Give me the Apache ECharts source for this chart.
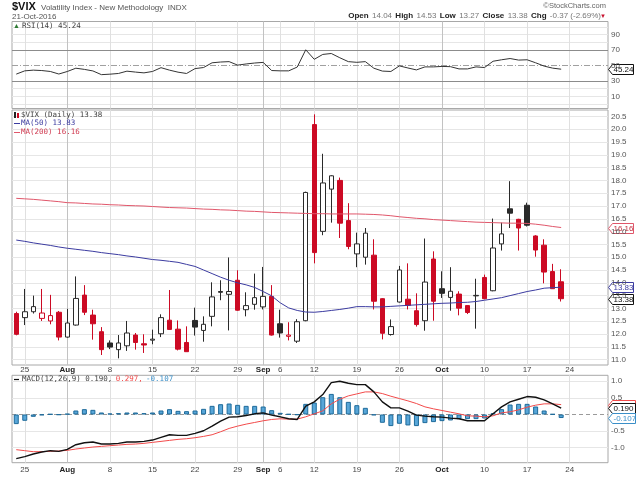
<!DOCTYPE html>
<html><head><meta charset="utf-8">
<script src="https://cdn.jsdelivr.net/npm/echarts@6/dist/echarts.min.js"></script>
<style>html,body{margin:0;padding:0;background:#fff}#c{width:640px;height:477px}</style>
</head><body><div id="c"></div>
<script>
// ---------- data ----------
const dates = ['07-22','07-25','07-26','07-27','07-28','07-29',
 '08-01','08-02','08-03','08-04','08-05','08-08','08-09','08-10','08-11','08-12','08-15','08-16','08-17','08-18','08-19','08-22','08-23','08-24','08-25','08-26','08-29','08-30','08-31',
 '09-01','09-02','09-06','09-07','09-08','09-09','09-12','09-13','09-14','09-15','09-16','09-19','09-20','09-21','09-22','09-23','09-26','09-27','09-28','09-29','09-30',
 '10-03','10-04','10-05','10-06','10-07','10-10','10-11','10-12','10-13','10-14','10-17','10-18','10-19','10-20','10-21',
 '10-24','10-25','10-26','10-27','10-28'];
const tickDates = ['07-25','08-01','08-08','08-15','08-22','08-29','09-01','09-06','09-12','09-19','09-26','10-03','10-10','10-17','10-24'];
const tickTexts = ['25','Aug','8','15','22','29','Sep','6','12','19','26','Oct','10','17','24'];
const monthTexts = ['Aug','Sep','Oct'];

const opens = [12.80,12.64,12.87,12.61,12.51,12.85,11.88,12.35,13.52,12.74,12.09,11.65,11.39,11.54,11.96,11.62,11.76,12.01,12.54,12.19,11.67,12.53,12.14,12.69,13.66,13.55,14.10,12.95,13.16,13.06,13.47,12.40,11.91,11.72,12.52,20.18,16.01,17.66,18.00,16.43,15.13,15.00,15.08,13.38,11.98,13.25,13.36,12.91,12.52,14.93,13.77,13.43,13.56,13.11,13.49,14.21,13.69,15.52,16.89,16.48,17.03,15.83,15.47,14.44,14.04];
const highs = [12.87,13.76,13.50,13.76,13.53,12.90,12.98,14.25,13.91,12.95,12.27,11.75,11.96,12.51,12.04,11.99,12.17,12.77,13.72,12.53,12.30,13.03,12.69,14.02,14.10,14.99,14.49,13.63,14.36,14.62,13.91,12.95,12.46,12.58,17.56,20.58,19.04,18.20,18.11,17.11,15.96,16.14,15.70,13.40,12.57,14.66,14.76,13.59,15.73,15.23,14.45,14.61,13.67,13.12,14.16,14.32,16.51,16.35,17.97,16.50,17.13,15.86,15.70,14.74,14.53];
const lows = [11.95,12.35,12.80,12.51,12.38,11.75,11.86,12.33,12.74,11.78,11.18,11.41,11.05,11.34,11.39,11.26,11.60,11.88,12.16,11.36,11.31,11.94,11.70,12.30,13.32,12.14,12.91,12.69,12.95,12.96,11.94,11.86,11.75,11.65,12.50,14.76,15.86,16.35,15.75,15.31,14.61,14.71,12.96,11.79,11.94,13.23,12.96,12.29,12.13,12.52,13.41,12.91,12.73,12.78,12.21,13.36,13.67,15.26,16.14,15.26,16.20,15.02,13.98,13.76,13.27];
const closes = [11.99,12.87,13.07,12.82,12.72,11.88,12.43,13.39,12.85,12.40,11.39,11.49,11.65,12.04,11.67,11.57,11.80,12.64,12.18,11.41,11.31,12.27,12.38,13.45,13.63,13.66,12.93,13.11,13.42,13.47,11.96,12.04,11.96,12.48,17.53,15.18,17.90,18.18,16.33,15.42,15.52,15.94,13.28,12.03,12.29,14.50,13.12,12.37,14.03,13.28,13.59,13.67,13.01,12.84,13.51,13.38,15.36,15.91,16.72,16.14,16.25,15.28,14.42,13.77,13.38];

const ma50 = [15.67,15.62,15.56,15.51,15.46,15.40,15.35,15.31,15.27,15.23,15.18,15.14,15.10,15.05,15.01,14.96,14.91,14.88,14.84,14.80,14.72,14.64,14.50,14.36,14.22,14.10,14.00,13.92,13.82,13.66,13.49,13.22,13.02,12.92,12.86,12.85,12.88,12.92,12.96,13.01,13.07,13.07,13.06,13.06,13.08,13.10,13.12,13.14,13.16,13.18,13.20,13.21,13.23,13.24,13.27,13.32,13.37,13.42,13.50,13.58,13.66,13.72,13.79,13.81,13.83];
const ma200 = [17.30,17.28,17.26,17.23,17.20,17.17,17.13,17.12,17.10,17.08,17.07,17.05,17.04,17.02,17.01,17.00,16.98,16.96,16.94,16.93,16.92,16.90,16.88,16.87,16.85,16.84,16.82,16.80,16.79,16.77,16.75,16.74,16.73,16.72,16.71,16.70,16.70,16.69,16.69,16.69,16.69,16.68,16.67,16.65,16.62,16.58,16.55,16.52,16.50,16.47,16.45,16.43,16.41,16.39,16.37,16.36,16.35,16.34,16.33,16.33,16.32,16.29,16.25,16.20,16.16];

const rsi = [38.9,43.1,44.0,43.5,42.3,39.0,42.3,46.5,45.0,43.0,38.2,38.8,39.7,42.7,41.5,40.5,42.3,47.2,44.0,41.4,39.7,46.0,47.4,53.5,54.5,55.0,50.5,52.0,53.2,54.0,43.5,43.1,43.1,48.0,70.3,58.0,64.3,65.5,60.0,55.0,54.1,55.0,46.5,42.8,42.3,49.5,46.8,44.3,48.2,48.2,48.8,48.5,45.6,45.6,48.2,47.4,55.5,57.4,59.0,57.0,57.4,53.5,49.2,46.6,45.24];

const macd = [-1.33,-1.27,-1.19,-1.13,-1.09,-1.11,-1.05,-0.91,-0.85,-0.83,-0.89,-0.89,-0.87,-0.83,-0.83,-0.81,-0.77,-0.69,-0.61,-0.63,-0.63,-0.57,-0.49,-0.35,-0.20,-0.08,-0.07,-0.03,0.02,0.05,-0.02,-0.07,-0.13,-0.15,0.25,0.38,0.60,0.96,1.00,0.94,0.90,0.90,0.68,0.38,0.20,0.20,0.10,-0.02,-0.05,-0.07,-0.08,-0.11,-0.13,-0.19,-0.19,-0.19,0.02,0.23,0.38,0.46,0.54,0.52,0.44,0.32,0.19];
const signal = [-1.06,-1.09,-1.12,-1.12,-1.11,-1.10,-1.08,-1.04,-1.01,-0.98,-0.96,-0.94,-0.92,-0.90,-0.89,-0.87,-0.84,-0.81,-0.78,-0.75,-0.73,-0.70,-0.66,-0.61,-0.52,-0.42,-0.35,-0.29,-0.24,-0.19,-0.15,-0.13,-0.14,-0.14,-0.07,0.02,0.11,0.32,0.46,0.56,0.62,0.68,0.68,0.63,0.55,0.48,0.41,0.33,0.23,0.17,0.12,0.07,0.02,-0.04,-0.05,-0.07,-0.04,0.05,0.08,0.14,0.22,0.28,0.32,0.32,0.297];
const hist = [-0.29,-0.19,-0.07,-0.02,0.01,-0.01,0.02,0.12,0.16,0.14,0.06,0.03,0.04,0.06,0.06,0.04,0.06,0.12,0.16,0.11,0.10,0.12,0.17,0.26,0.31,0.33,0.29,0.26,0.26,0.24,0.13,0.05,0.01,-0.01,0.32,0.36,0.52,0.62,0.52,0.38,0.28,0.20,-0.02,-0.25,-0.35,-0.28,-0.33,-0.35,-0.26,-0.23,-0.20,-0.18,-0.14,-0.14,-0.14,-0.12,0.04,0.16,0.30,0.32,0.32,0.24,0.12,0.01,-0.107];

const mainTicks = [11.0,11.5,12.0,12.5,13.0,13.5,14.0,14.5,15.0,15.5,16.0,16.5,17.0,17.5,18.0,18.5,19.0,19.5,20.0,20.5];
const rsiLabelTicks = [10,30,50,70,90];
const rsiGridTicks = [0,10,20,80,90,100];
const macdTicks = [-1.0,-0.5,0.5,1.0];

// ---------- style ----------
const SANS = 'Liberation Sans, Arial, sans-serif';
const MONO = 'DejaVu Sans Mono, monospace';
const RED = '#cc0a24', BLACK = '#2a2a2a';
const BLUE_MA = '#3b3ba0', RED_MA = '#e0566a';

const chart = echarts.init(document.getElementById('c'), null, {renderer:'canvas', width:640, height:477});

const gridBase = {left:12, right:32, show:true, borderColor:'#a8a8a8', borderWidth:1, backgroundColor:'rgba(0,0,0,0)'};

function xAx(gi, showLabels, margin) {
  return {
    type:'category', gridIndex:gi, data:dates, boundaryGap:true,
    axisLine:{show:false}, axisTick:{show:false}, splitLine:{show:false},
    axisLabel:{
      show:showLabels, margin:margin, fontSize:8, color:'#444', fontFamily:SANS,
      interval:(i, v) => tickDates.includes(v),
      formatter:(v) => {
        const t = tickTexts[tickDates.indexOf(v)];
        return monthTexts.includes(t) ? '{m|' + t + '}' : t;
      },
      rich:{m:{fontWeight:'bold', fontSize:8, color:'#222', fontFamily:SANS}}
    }
  };
}

function vLines() {
  return tickDates.map(d => ({
    xAxis:d,
    lineStyle:{color: monthTexts.includes(tickTexts[tickDates.indexOf(d)]) ? '#c2c2c2' : '#e0e0e0', width:1, type:'solid'}
  }));
}

const candleData = closes.map((c, i) => {
  const upDay = i > 0 && c >= closes[i-1];
  const col = upDay ? BLACK : RED;
  const hollow = c > opens[i];
  const fill = hollow ? '#ffffff' : col;
  return {value:[opens[i], c, lows[i], highs[i]],
    itemStyle:{color:fill, color0:fill, borderColor:col, borderColor0:col, borderWidth:1}};
});

const option = {
  animation:false,
  grid:[
    Object.assign({top:21.5, height:87}, gridBase),
    Object.assign({top:110, height:255}, gridBase),
    Object.assign({top:375.3, height:87.4}, gridBase)
  ],
  xAxis:[ xAx(0, false, 2), xAx(1, true, 1), xAx(2, true, 3.5) ],
  yAxis:[
    {type:'value', gridIndex:0, position:'right', min:-5.5, max:106.8,
     axisLine:{show:false}, axisTick:{show:false, customValues:rsiGridTicks},
     splitLine:{show:true, lineStyle:{color:'#e6e6e6', width:1}},
     axisLabel:{customValues:rsiLabelTicks, margin:3, fontSize:8, color:'#555', fontFamily:SANS}},
    {type:'value', gridIndex:1, position:'right', min:10.79, max:20.75,
     axisLine:{show:false}, axisTick:{show:false, customValues:mainTicks},
     splitLine:{show:true, lineStyle:{color:'#e6e6e6', width:1}},
     axisLabel:{customValues:mainTicks, margin:3, fontSize:8, color:'#555', fontFamily:SANS,
       formatter:(v) => v.toFixed(1)}},
    {type:'value', gridIndex:2, position:'right', min:-1.452, max:1.18,
     axisLine:{show:false}, axisTick:{show:false, customValues:macdTicks},
     splitLine:{show:true, lineStyle:{color:'#e6e6e6', width:1}},
     axisLabel:{customValues:macdTicks, margin:3, fontSize:8, color:'#555', fontFamily:SANS,
       formatter:(v) => v.toFixed(1)}}
  ],
  series:[
    {type:'line', name:'RSI', xAxisIndex:0, yAxisIndex:0, data:rsi, symbol:'none', z:3,
     lineStyle:{color:'#333', width:1},
     markLine:{silent:true, symbol:['none','none'], z:1, label:{show:false},
       data: vLines().concat([
         {yAxis:70, lineStyle:{color:'#8c8c8c', width:1, type:'solid'}},
         {yAxis:30, lineStyle:{color:'#8c8c8c', width:1, type:'solid'}},
         {yAxis:50, lineStyle:{color:'#a0a0a0', width:1, type:[6,2,1,2]}}
       ])}},
    {type:'candlestick', name:'VIX', xAxisIndex:1, yAxisIndex:1, data:candleData, barWidth:5, z:2,
     markLine:{silent:true, symbol:['none','none'], z:1, label:{show:false}, data:vLines()}},
    {type:'line', name:'MA200', xAxisIndex:1, yAxisIndex:1, data:ma200, symbol:'none', z:4,
     lineStyle:{color:RED_MA, width:1}},
    {type:'line', name:'MA50', xAxisIndex:1, yAxisIndex:1, data:ma50, symbol:'none', z:4,
     lineStyle:{color:BLUE_MA, width:1}},
    {type:'bar', name:'Hist', xAxisIndex:2, yAxisIndex:2, data:hist, barWidth:5, z:2,
     itemStyle:{color:'#58a6d8', borderColor:'#1d6a9a', borderWidth:1},
     markLine:{silent:true, symbol:['none','none'], z:1, label:{show:false},
       data: vLines().concat([{yAxis:0, lineStyle:{color:'#9a9a9a', width:1, type:[4,3]}}])}},
    {type:'line', name:'Signal', xAxisIndex:2, yAxisIndex:2, data:signal, symbol:'none', z:3,
     lineStyle:{color:'#f24a4a', width:1}},
    {type:'line', name:'MACD', xAxisIndex:2, yAxisIndex:2, data:macd, symbol:'none', z:4,
     lineStyle:{color:'#111', width:1.4}}
  ]
};
chart.setOption(option);

// ---------- text / overlays ----------
const last = dates[closes.length - 1];
function py(axisIdx, v) { return chart.convertToPixel({xAxisIndex:axisIdx, yAxisIndex:axisIdx}, [last, v])[1]; }

function txt(x, y, text, fill, font, align) {
  return {type:'text', x:x, y:y, z:50, style:{text:text, fill:fill, font:font, align:align || 'left', verticalAlign:'middle'}};
}
function valueBox(y, text, stroke, fill, w) {
  return {type:'group', x:608.5, y:Math.round(y) + 0.5, z:60, children:[
    {type:'polygon', shape:{points:[[0,0],[4,-5],[w,-5],[w,5],[4,5]]}, style:{fill:'#fff', stroke:stroke, lineWidth:1}},
    {type:'text', x:5, y:0.5, style:{text:text, fill:fill, font:'8px ' + SANS, verticalAlign:'middle'}}
  ]};
}

const g = [];
// header
g.push(txt(12, 7, '$VIX', '#111', 'bold 11px ' + SANS));
g.push(txt(41, 7.5, 'Volatility Index - New Methodology  INDX', '#555', '8px ' + SANS));
g.push(txt(12, 16.5, '21-Oct-2016', '#555', '8px ' + SANS));
g.push(txt(606, 5.5, '\u00A9StockCharts.com', '#666', '7.5px ' + SANS, 'right'));
g.push({type:'text', x:601, y:16, z:50, style:{
  text:'{b|Open} {v|14.04} {b|High} {v|14.53} {b|Low} {v|13.27} {b|Close} {v|13.38} {b|Chg} {v|-0.37 (-2.69%)}',
  align:'right', verticalAlign:'middle',
  rich:{b:{font:'bold 8px ' + SANS, fill:'#222'}, v:{font:'8px ' + SANS, fill:'#777'}}}});
g.push(txt(606, 16.5, '\u25BC', '#c8102e', '6px ' + SANS, 'right'));

// RSI legend
g.push(txt(13, 26, '\u25B2', '#2d7a32', '7px ' + SANS));
g.push(txt(22, 26, 'RSI(14) 45.24', '#444', '7.5px ' + MONO));

// main legend
g.push({type:'rect', z:50, shape:{x:14, y:112, width:2, height:6}, style:{fill:'#222'}});
g.push({type:'rect', z:50, shape:{x:17, y:113, width:2, height:5}, style:{fill:RED}});
g.push(txt(21, 115.5, '$VIX (Daily) 13.38', '#444', '7.5px ' + MONO));
g.push({type:'line', z:50, shape:{x1:14, y1:123.5, x2:20, y2:123.5}, style:{stroke:BLUE_MA, lineWidth:1}});
g.push(txt(21, 123.5, 'MA(50) 13.83', BLUE_MA, '7.5px ' + MONO));
g.push({type:'line', z:50, shape:{x1:14, y1:132.5, x2:20, y2:132.5}, style:{stroke:RED_MA, lineWidth:1}});
g.push(txt(21, 132.5, 'MA(200) 16.16', '#d03a50', '7.5px ' + MONO));

// MACD legend
g.push({type:'line', z:50, shape:{x1:14, y1:379.5, x2:19, y2:379.5}, style:{stroke:'#111', lineWidth:1.2}});
g.push({type:'text', x:22, y:379.5, z:50, style:{
  text:'{a|MACD(12,26,9) 0.190,} {r|0.297,} {b|-0.107}', verticalAlign:'middle',
  rich:{a:{font:'7.5px ' + MONO, fill:'#444'}, r:{font:'7.5px ' + MONO, fill:'#f24a4a'}, b:{font:'7.5px ' + MONO, fill:'#3a8fc8'}}}});

// value boxes
g.push(valueBox(py(1, ma200[ma200.length-1]), '16.16', RED_MA, '#c03040', 25));
g.push(valueBox(py(1, ma50[ma50.length-1]), '13.83', BLUE_MA, BLUE_MA, 25));
g.push(valueBox(py(1, closes[closes.length-1]), '13.38', '#111', '#111', 25));
g.push(valueBox(py(0, rsi[rsi.length-1]), '45.24', '#111', '#111', 25));
g.push(valueBox(py(2, signal[signal.length-1]), '0.297', '#f24a4a', '#f24a4a', 27));
g.push(valueBox(py(2, macd[macd.length-1]), '0.190', '#111', '#111', 27));
g.push(valueBox(py(2, hist[hist.length-1]), '-0.107', '#3a8fc8', '#3a8fc8', 27));

chart.setOption({graphic:g});
</script>
</body></html>
